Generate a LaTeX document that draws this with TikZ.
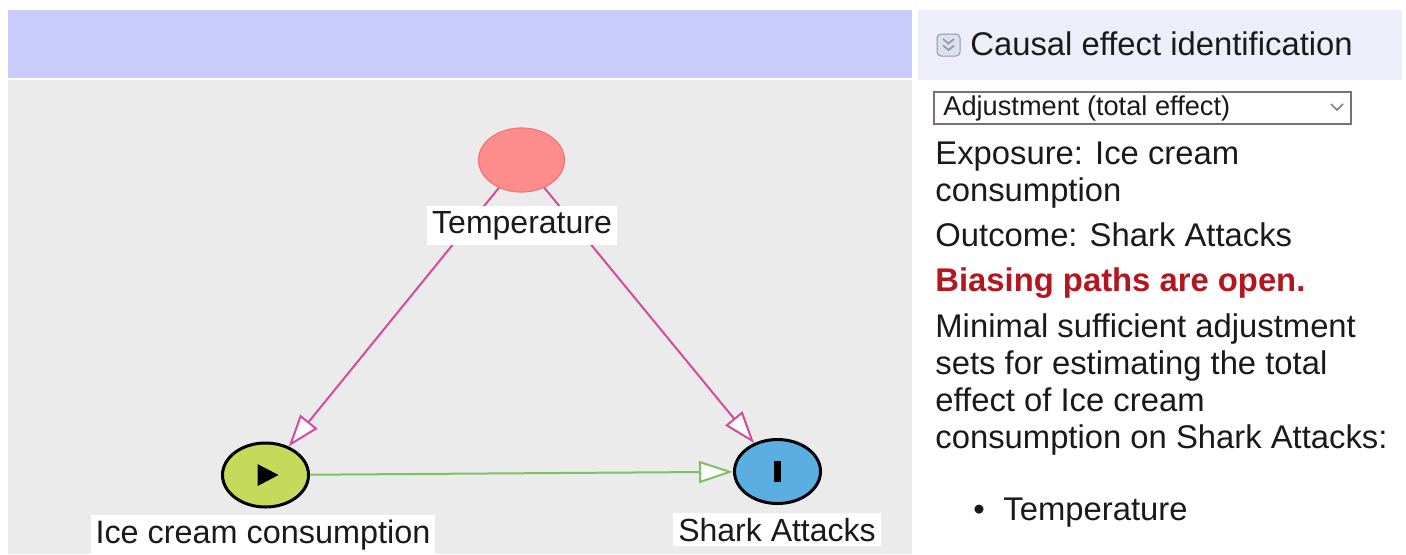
\documentclass[tikz,border=0pt]{standalone}
\usepackage{fontspec}
\setmainfont{Liberation Sans}
\usetikzlibrary{arrows.meta,shapes.geometric}
\definecolor{bgpanel}{HTML}{EBEBEB}
\definecolor{barblue}{HTML}{C9CBFA}
\definecolor{hdrlav}{HTML}{EEEEFB}
\definecolor{tempfill}{HTML}{FF8C8C}
\definecolor{tempborder}{HTML}{F07676}
\definecolor{icefill}{HTML}{C5D95B}
\definecolor{sharkfill}{HTML}{5AAEE2}
\definecolor{pinkedge}{HTML}{D64A9E}
\definecolor{greenedge}{HTML}{7DC25E}
\definecolor{biasred}{HTML}{B3161E}
\definecolor{txt}{HTML}{1A1A1A}
\definecolor{iconfill}{HTML}{DCE2EC}
\definecolor{iconline}{HTML}{8C96A8}
\definecolor{ddborder}{HTML}{7E6E6E}
\begin{document}
\begin{tikzpicture}[x=0.5pt,y=-0.5pt,
  var/.style={ellipse, inner sep=0pt, minimum width=43pt, minimum height=32pt},
  lbl/.style={fill=white, inner sep=2.5pt, anchor=base, text=txt, font=\fontsize{16}{18}\selectfont},
  pinkarrow/.style={draw=pinkedge, line width=1pt, -{Triangle[length=16pt, width=11pt, fill=white]}},
  greenarrow/.style={draw=greenedge, line width=1pt, -{Triangle[length=17pt, width=11pt, fill=white]}},
  paneltext/.style={anchor=base west, inner sep=0pt, text=txt, font=\fontsize{16.4}{18}\selectfont},
]
\useasboundingbox (0,0) rectangle (1406,554);
\fill[white] (0,0) rectangle (1406,554);
% left panel
\fill[bgpanel] (8,80) rectangle (912,554);
\fill[barblue] (8,10) rectangle (912,78);
% right header
\fill[hdrlav] (918,10) rectangle (1402,80);
\draw[iconline, fill=iconfill, rounded corners=2pt, line width=0.5pt] (937,34) rectangle (960,56);
\draw[iconline, line width=0.8pt] (943,39) -- (948.5,43.5) -- (954,39);
\draw[iconline, line width=0.8pt] (943,45.5) -- (948.5,50) -- (954,45.5);
\node[paneltext] (hdr) at (970,55) {Causal effect identification};
% dropdown
\draw[ddborder, fill=white, line width=1pt] (934,92) rectangle (1351,124);
\node[anchor=base west, inner sep=0pt, text=txt, font=\fontsize{13.6}{16}\selectfont] (dd) at (943,115) {Adjustment (total effect)};
\draw[gray, line width=0.8pt] (1331,104) -- (1337,110) -- (1343,104);
% panel text
\node[paneltext] (l1) at (935,164) {Exposure: Ice cream};
\node[paneltext] (l2) at (935,201) {consumption};
\node[paneltext] (l3) at (935,246) {Outcome: Shark Attacks};
\node[paneltext, text=biasred, font=\fontsize{16.4}{18}\selectfont\bfseries] (l4) at (935,291) {Biasing paths are open.};
\node[paneltext] (l5) at (935,337) {Minimal sufficient adjustment};
\node[paneltext] (l6) at (935,374) {sets for estimating the total};
\node[paneltext] (l7) at (935,411) {effect of Ice cream};
\node[paneltext] (l8) at (935,448) {consumption on Shark Attacks:};
\node[paneltext] (bul) at (973,520) {•};
\node[paneltext] (l9) at (1003,520) {Temperature};
% graph nodes
\node[var, fill=tempfill, draw=tempborder, line width=0.6pt] (temp) at (521.5,160) {};
\node[var, fill=icefill, draw=black, line width=1.5pt] (ice) at (265.5,475) {};
\node[var, fill=sharkfill, draw=black, line width=1.5pt] (shark) at (777.5,471.5) {};
\fill[shift={(ice.center)}] (-8,-11) -- (13,0) -- (-8,11) -- cycle;
\fill[shift={(shark.center)}] (-3.5,-10.5) rectangle (3.5,10.5);
% edges
\draw[pinkarrow] (temp) -- (ice);
\draw[pinkarrow] (temp) -- (shark);
\draw[greenarrow] (ice) -- (shark);
% labels
\node[lbl] (templbl) at (522,233) {Temperature};
\node[lbl, font=\fontsize{16.2}{18}\selectfont] (icelbl) at (263,543) {Ice cream consumption};
\node[lbl] (sharklbl) at (777,541) {Shark Attacks};
\end{tikzpicture}
\end{document}
